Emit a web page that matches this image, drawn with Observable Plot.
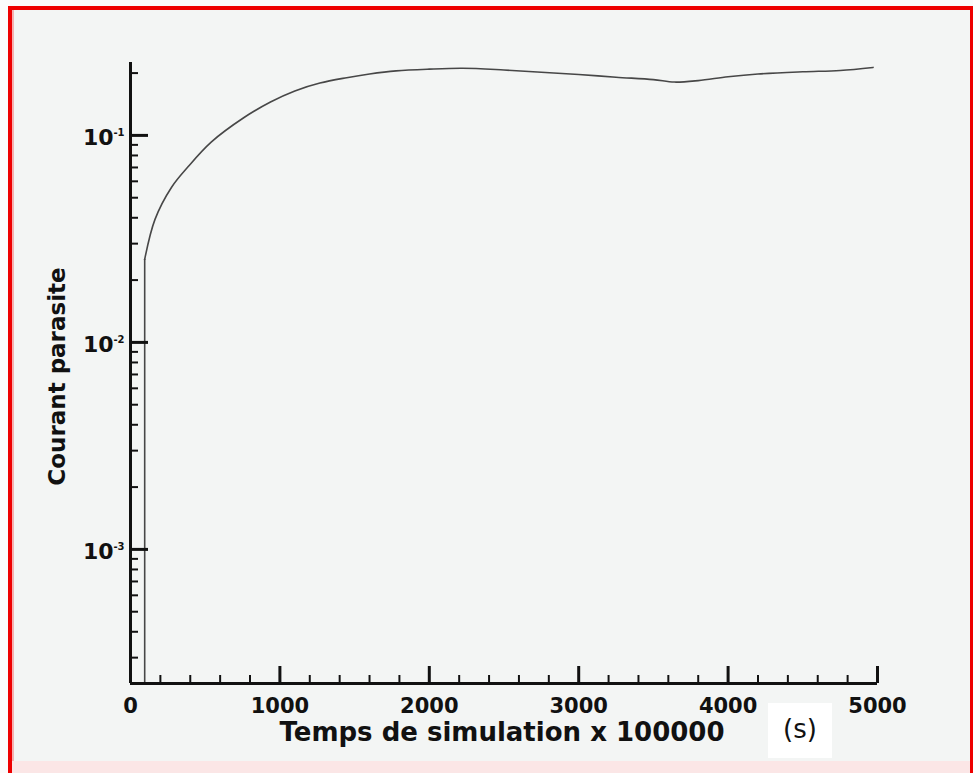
<!DOCTYPE html>
<html><head><meta charset="utf-8">
<script src="https://cdn.jsdelivr.net/npm/d3@7"></script>
<script src="https://cdn.jsdelivr.net/npm/@observablehq/plot@0.6"></script>
<style>
html,body{margin:0;padding:0;background:#fbfbfb;}
#wrap{position:relative;width:973px;height:773px;overflow:hidden;background:#f3f5f4;}
#wrap svg{position:absolute;left:0;top:0;}
.b{position:absolute;}
#units{position:absolute;left:768px;top:703px;width:64px;height:55px;background:#ffffff;
  font-family:"DejaVu Sans",sans-serif;font-size:26px;color:#111;text-align:center;line-height:52px;}
</style></head>
<body><div id="wrap"></div>
<script>
// Data
const timeX   = [95, 95, 164, 275, 385, 540, 760, 937, 1100, 1268, 1447, 1600, 1778, 2000, 2222, 2500, 2750, 3000, 3250, 3500, 3640, 3800, 4000, 4200, 4500, 4750, 4970];
const courant = [0.000225, 0.0252, 0.0393, 0.0562, 0.0705, 0.0928, 0.122, 0.145, 0.164, 0.179, 0.19, 0.198, 0.205, 0.209, 0.211, 0.207, 0.202, 0.197, 0.191, 0.186, 0.181, 0.184, 0.192, 0.198, 0.203, 0.206, 0.213];

const xTickLabels = [0, 1000, 2000, 3000, 4000, 5000];
const xMajorTicks = [1000, 2000, 3000, 4000, 5000];
const xMinorTicks = [200, 400, 600, 800, 1200, 1400, 1600, 1800, 2200, 2400, 2600, 2800, 3200, 3400, 3600, 3800, 4200, 4400, 4600, 4800];
const yMajorTicks = [0.001, 0.01, 0.1];
const yExponents  = ["-3", "-2", "-1"];
const yMinorTicks = [0.0003, 0.0004, 0.0005, 0.0006, 0.0007, 0.0008, 0.0009,
                     0.002, 0.003, 0.004, 0.005, 0.006, 0.007, 0.008, 0.009,
                     0.02, 0.03, 0.04, 0.05, 0.06, 0.07, 0.08, 0.09, 0.2];
const xDomain = [0, 5000];
const yDomain = [0.000225, 0.225];

const data = timeX.map((t, i) => ({t, c: courant[i]}));
const font = "DejaVu Sans, sans-serif";

const chart = Plot.plot({
  width: 973, height: 773,
  marginLeft: 130, marginRight: 96, marginTop: 62, marginBottom: 90,
  style: {background: "transparent", color: "#111", fontFamily: font},
  x: {domain: xDomain},
  y: {type: "log", domain: yDomain},
  marks: [
    // initial jump (vertical) then smooth rise
    Plot.line(data.slice(0, 2), {x: "t", y: "c", stroke: "#474747", strokeWidth: 1.6}),
    Plot.line(data.slice(1), {x: "t", y: "c", stroke: "#474747", strokeWidth: 1.6, curve: "catmull-rom"}),
    // inward ticks
    Plot.axisY(yMinorTicks, {tickSize: 8, dx: 8, strokeWidth: 2, stroke: "#111", tickFormat: () => "", label: null}),
    Plot.axisY(yMajorTicks, {tickSize: 18, dx: 18, strokeWidth: 3, stroke: "#111", tickFormat: () => "", label: null}),
    Plot.axisX(xMinorTicks, {tickSize: 8, dy: -8, strokeWidth: 2, stroke: "#111", tickFormat: () => "", label: null}),
    Plot.axisX(xMajorTicks, {tickSize: 17, dy: -17, strokeWidth: 3, stroke: "#111", tickFormat: () => "", label: null}),
    // x tick labels
    Plot.axisX(xTickLabels, {tickSize: 0, tickPadding: 15, fontSize: 21, fontWeight: "bold", fontFamily: font, fill: "#111", tickFormat: d => String(d), label: null}),
    // y tick labels: 10 with exponent
    Plot.text(yMajorTicks, {y: d => d, text: () => "10", frameAnchor: "left", textAnchor: "end", dx: -17, dy: 2.5, fontSize: 22, fontWeight: "bold", fontFamily: font, fill: "#111"}),
    Plot.text(yMajorTicks, {y: d => d, text: (d, i) => yExponents[i], frameAnchor: "left", textAnchor: "end", dx: -6, dy: -3, fontSize: 10, fontWeight: "bold", fontFamily: font, fill: "#111"}),
    // axis lines
    Plot.ruleX([xDomain[0]], {stroke: "#111", strokeWidth: 3}),
    Plot.ruleY([yDomain[0]], {stroke: "#111", strokeWidth: 3}),
    // axis titles
    Plot.text(["Temps de simulation x 100000"], {frameAnchor: "bottom", lineAnchor: "middle", textAnchor: "middle", dx: -2, dy: 48.7, fontSize: 26, fontWeight: "bold", fontFamily: font, fill: "#111"}),
    Plot.text(["Courant parasite"], {frameAnchor: "left", rotate: -90, textAnchor: "middle", lineAnchor: "middle", dx: -73, dy: 3.5, fontSize: 23, fontWeight: "bold", fontFamily: font, fill: "#111"})
  ]
});

const wrap = document.getElementById("wrap");
wrap.appendChild(chart);
const units = document.createElement("div");
units.id = "units"; units.textContent = "(s)";
wrap.appendChild(units);
// frame decorations (scan border)
const borders = [
  {l: 0, t: 0, w: 973, h: 6, c: "#fbfbfb"},
  {l: 0, t: 0, w: 8, h: 773, c: "#fbfbfb"},
  {l: 8, t: 6, w: 965, h: 4, c: "#ee0000"},
  {l: 8, t: 6, w: 4, h: 767, c: "#ee0000"},
  {l: 12, t: 10, w: 2, h: 763, c: "#f6b0b0"},
  {l: 970, t: 6, w: 3, h: 767, c: "#ee0000"},
  {l: 12, t: 761, w: 958, h: 12, c: "#fbe6e6"}
];
for (const b of borders) {
  const d = document.createElement("div");
  d.className = "b";
  Object.assign(d.style, {left: b.l + "px", top: b.t + "px", width: b.w + "px", height: b.h + "px", background: b.c});
  wrap.appendChild(d);
}
</script>
</body></html>
